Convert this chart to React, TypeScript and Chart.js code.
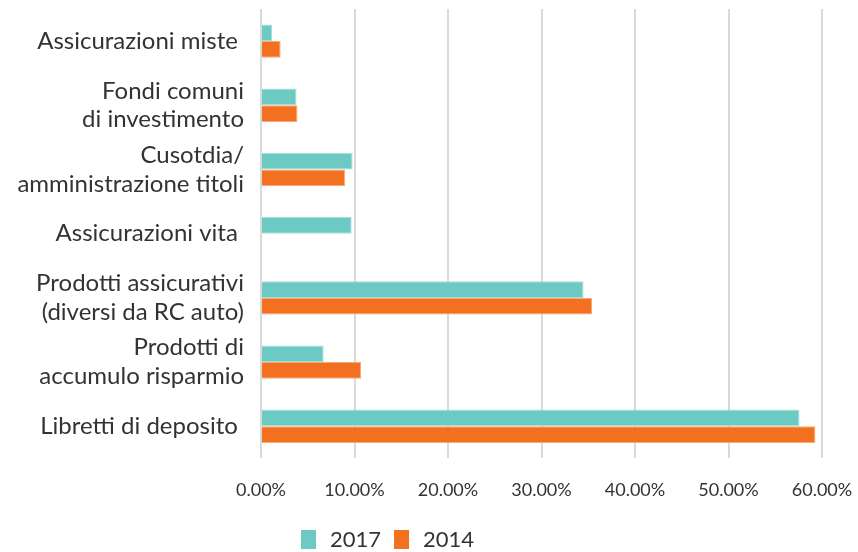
import React, { useEffect, useRef } from "react";
import { Chart, registerables } from "chart.js";

Chart.register(...registerables);

const categories: (string | string[])[] = [
  "Assicurazioni miste ",
  ["Fondi comuni", "di investimento"],
  ["Cusotdia/", "amministrazione titoli"],
  "Assicurazioni vita ",
  ["Prodotti assicurativi", "(diversi da RC auto)"],
  ["Prodotti di", "accumulo risparmio"],
  "Libretti di deposito ",
];

const values2017 = [1.2, 3.8, 9.8, 9.7, 34.5, 6.7, 57.6];
const values2014 = [2.1, 3.9, 9.0, null, 35.4, 10.7, 59.3];

const seriesLabels = ["2017", "2014"];
const seriesColors = ["#6DCAC3", "#F37021"];
const seriesBorders = ["#A6DFDA", "#F9A878"];

const FONT = "Lato, 'Open Sans', sans-serif";
const TEXT_COLOR = "#333333";

const customLegend = {
  id: "customLegend",
  afterDraw(chart: any) {
    const ctx = chart.ctx;
    const y = 540;
    let x = 301;
    ctx.save();
    ctx.font = `22px ${FONT}`;
    ctx.textBaseline = "middle";
    ctx.textAlign = "left";
    chart.data.datasets.forEach((ds: any) => {
      ctx.fillStyle = ds.backgroundColor;
      ctx.fillRect(x, y - 10, 15, 19);
      x += 29;
      ctx.fillStyle = TEXT_COLOR;
      ctx.fillText(ds.label, x, y);
      x += ctx.measureText(ds.label).width + 13;
    });
    ctx.restore();
  },
};

export default function App() {
  const ref = useRef<HTMLCanvasElement | null>(null);

  useEffect(() => {
    if (!ref.current) return;
    const chart = new Chart(ref.current, {
      type: "bar",
      data: {
        labels: categories,
        datasets: [
          {
            label: seriesLabels[0],
            data: values2017,
            backgroundColor: seriesColors[0],
            borderColor: seriesBorders[0],
            borderWidth: 1,
          },
          {
            label: seriesLabels[1],
            data: values2014,
            backgroundColor: seriesColors[1],
            borderColor: seriesBorders[1],
            borderWidth: 1,
          },
        ],
      },
      options: {
        indexAxis: "y",
        animation: false,
        responsive: false,
        maintainAspectRatio: false,
        layout: { padding: { top: 9, right: 36, bottom: 30, left: 0 } },
        datasets: {
          bar: { categoryPercentage: 0.52, barPercentage: 1 },
        },
        scales: {
          x: {
            min: 0,
            max: 60,
            ticks: {
              stepSize: 10,
              padding: 21,
              color: TEXT_COLOR,
              font: { family: FONT, size: 18 },
              maxRotation: 0,
              autoSkip: false,
              callback: (v: any) => Number(v).toFixed(2) + "%",
            },
            grid: { color: "#D9D9D9", lineWidth: 2, drawTicks: false },
            border: { display: false },
            afterFit: (scale: any) => {
              scale.paddingLeft = 0;
              scale.paddingRight = 0;
            },
          },
          y: {
            ticks: {
              padding: 17,
              autoSkip: false,
              color: TEXT_COLOR,
              font: { family: FONT, size: 24, lineHeight: 1.2 },
            },
            grid: { display: false, drawTicks: false },
            border: { display: false },
            afterFit: (scale: any) => {
              scale.width = 261;
              scale.paddingTop = 0;
              scale.paddingBottom = 0;
            },
          },
        },
        plugins: {
          legend: { display: false },
          tooltip: { enabled: false },
        },
      },
      plugins: [customLegend],
    });
    return () => chart.destroy();
  }, []);

  return (
    <div style={{ position: "fixed", left: 0, top: 0, width: 858, height: 552, background: "#fff" }}>
      <canvas ref={ref} width={858} height={552} style={{ width: 858, height: 552 }} />
    </div>
  );
}
